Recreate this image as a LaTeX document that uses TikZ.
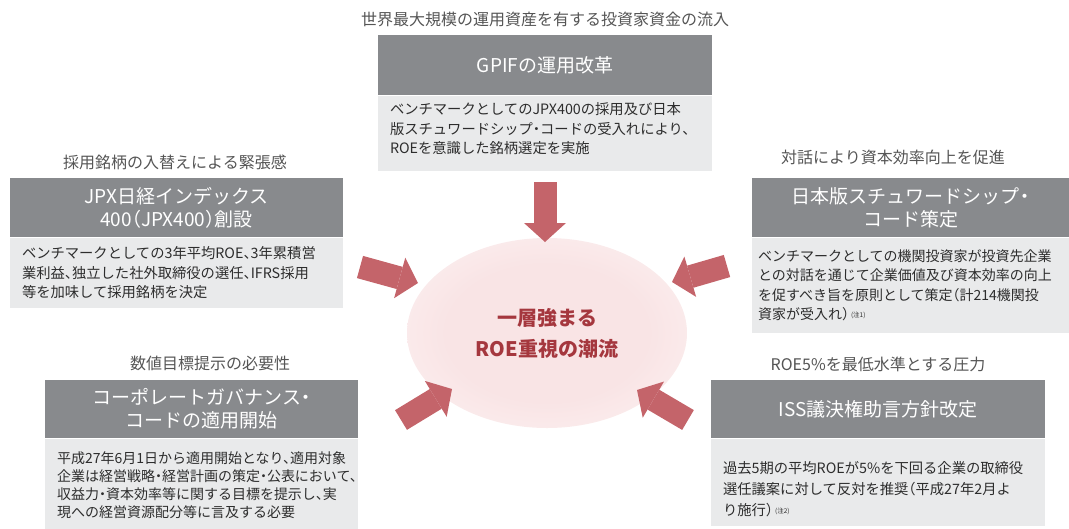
\documentclass[tikz,border=0pt]{standalone}
\usepackage{fontspec}
\setmainfont{Noto Sans CJK JP}[RawFeature=+halt]
\usetikzlibrary{arrows.meta,shapes.geometric}
\definecolor{hdgrey}{RGB}{136,138,141}
\definecolor{bdgrey}{RGB}{233,234,235}
\definecolor{capgrey}{RGB}{85,85,85}
\definecolor{txtgrey}{RGB}{45,45,45}
\definecolor{roered}{RGB}{196,100,106}
\definecolor{roetext}{RGB}{165,55,62}
\definecolor{roepink}{RGB}{249,228,229}
\pgfdeclareradialshading{roeglow}{\pgfpoint{0bp}{0bp}}{color(0bp)=(roepink); color(18bp)=(roepink); color(50bp)=(white)}
\newcommand{\notemark}[1]{\hspace{2pt}\raisebox{2pt}{\fontsize{6.5}{6.5}\selectfont (#1)}}
\tikzset{
  capline/.style={text=capgrey, inner sep=0pt, font=\fontsize{16}{16}\selectfont},
  headbox/.style={fill=hdgrey, text=white, align=center, inner sep=0pt, font=\fontsize{19}{23}\selectfont},
  bodybox/.style={fill=bdgrey, inner sep=0pt},
  bodytext/.style={text=txtgrey, align=left, inner sep=0pt, font=\fontsize{14.3}{19.5}\selectfont},
  roearrow/.style={draw=roered, line width=23pt, -{Triangle[length=19pt, width=42pt, line width=0pt]}}
}
\begin{document}
\begin{tikzpicture}[x=1pt, y=-1pt]
\useasboundingbox (0,0) rectangle (1069,528);
% centre
\node[ellipse, shading=roeglow, minimum width=280pt, minimum height=190pt, inner sep=0pt,
  align=center, text=roetext, font=\bfseries\fontsize{20}{31}\selectfont] (roe) at (547,333) {一層強まる\\ROE重視の潮流};
% GPIF
\node[capline] (capGpif) at (545,19) {世界最大規模の運用資産を有する投資家資金の流入};
\node[headbox, minimum width=334pt, minimum height=60pt, anchor=north] (hdGpif) at (545,35) {GPIFの運用改革};
\node[bodybox, minimum width=334pt, minimum height=75pt, anchor=north] (bdGpif) at (hdGpif.south) {};
\node[bodytext, anchor=west] (txGpif) at ([xshift=12pt, yshift=4pt]bdGpif.west) {ベンチマークとしてのJPX400の採用及び日本\\版スチュワードシップ・コードの受入れにより、\\ROEを意識した銘柄選定を実施};
% JPX400
\node[capline] (capJpx) at (175,162) {採用銘柄の入替えによる緊張感};
\node[headbox, minimum width=333pt, minimum height=59pt, anchor=north] (hdJpx) at (176.5,178) {JPX日経インデックス\\400（JPX400）創設};
\node[bodybox, minimum width=333pt, minimum height=70pt, anchor=north] (bdJpx) at (hdJpx.south) {};
\node[bodytext, anchor=west] (txJpx) at ([xshift=12pt]bdJpx.west) {ベンチマークとしての3年平均ROE、3年累積営\\業利益、独立した社外取締役の選任、IFRS採用\\等を加味して採用銘柄を決定};
% stewardship code
\node[capline] (capStw) at (893,157) {対話により資本効率向上を促進};
\node[headbox, minimum width=317pt, minimum height=59pt, anchor=north] (hdStw) at (910.5,178) {日本版スチュワードシップ・\\コード策定};
\node[bodybox, minimum width=317pt, minimum height=95pt, anchor=north] (bdStw) at (hdStw.south) {};
\node[bodytext, anchor=west, font=\fontsize{14}{19.5}\selectfont] (txStw) at ([xshift=6pt]bdStw.west) {ベンチマークとしての機関投資家が投資先企業\\との対話を通じて企業価値及び資本効率の向上\\を促すべき旨を原則として策定（計214機関投\\資家が受入れ）\notemark{注1}};
% corporate governance code
\node[capline] (capCgc) at (210,363) {数値目標提示の必要性};
\node[headbox, minimum width=313pt, minimum height=58pt, anchor=north] (hdCgc) at (201.5,380) {コーポレートガバナンス・\\コードの適用開始};
\node[bodybox, minimum width=313pt, minimum height=90pt, anchor=north] (bdCgc) at (hdCgc.south) {};
\node[bodytext, anchor=west, font=\fontsize{14}{18}\selectfont] (txCgc) at ([xshift=12pt, yshift=-2pt]bdCgc.west) {平成27年6月1日から適用開始となり、適用対象\\企業は経営戦略・経営計画の策定・公表において、\\収益力・資本効率等に関する目標を提示し、実\\現への経営資源配分等に言及する必要};
% ISS
\node[capline] (capIss) at (878,364) {ROE5\%を最低水準とする圧力};
\node[headbox, minimum width=334pt, minimum height=58pt, anchor=north] (hdIss) at (878,380) {ISS議決権助言方針改定};
\node[bodybox, minimum width=334pt, minimum height=87pt, anchor=north] (bdIss) at (hdIss.south) {};
\node[bodytext, anchor=west, font=\fontsize{14.3}{21}\selectfont] (txIss) at ([xshift=12pt, yshift=-7.5pt]bdIss.west) {過去5期の平均ROEが5\%を下回る企業の取締役\\選任議案に対して反対を推奨（平成27年2月よ\\り施行）\notemark{注2}};
% arrows
\coordinate (gpifTail) at (545,182);
\coordinate (gpifTip) at (545,242);
\coordinate (jpxTail) at (360,267);
\coordinate (jpxTip) at (418,283);
\coordinate (stwTail) at (727,266);
\coordinate (stwTip) at (672,282);
\coordinate (cgcTail) at (401,420);
\coordinate (cgcTip) at (452,389);
\coordinate (issTail) at (688,420);
\coordinate (issTip) at (637,390);
\draw[roearrow] (gpifTail) -- (gpifTip);
\draw[roearrow] (jpxTail) -- (jpxTip);
\draw[roearrow] (stwTail) -- (stwTip);
\draw[roearrow] (cgcTail) -- (cgcTip);
\draw[roearrow] (issTail) -- (issTip);
\end{tikzpicture}
\end{document}
